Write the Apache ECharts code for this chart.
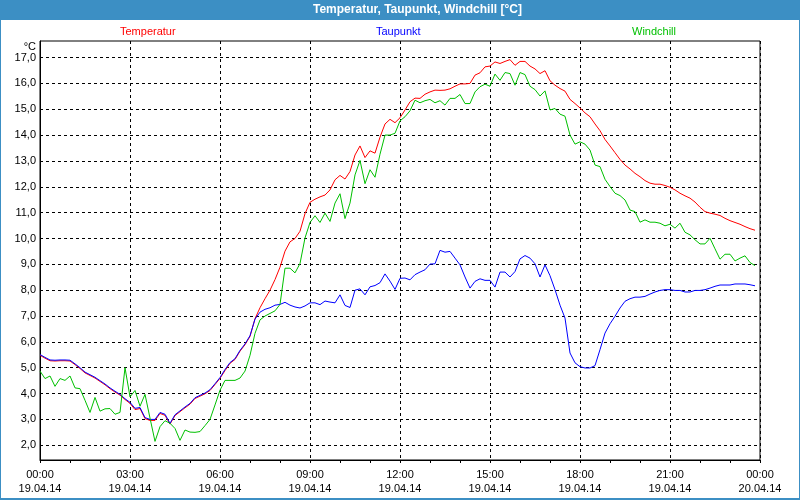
<!DOCTYPE html>
<html>
<head>
<meta charset="utf-8">
<script src="https://cdn.jsdelivr.net/npm/echarts@6/dist/echarts.min.js"></script>
<style>
html,body{margin:0;padding:0;background:#fff;}
#chart{width:800px;height:500px;}
</style>
</head>
<body>
<div id="chart"></div>
<script>
// ---- data (10-minute readings, 19.04.14 00:00 .. 23:50) ----
const titleText = 'Temperatur, Taupunkt, Windchill [°C]';
const seriesNames = ['Temperatur', 'Taupunkt', 'Windchill'];
const seriesColors = ['#ff0000', '#0000ff', '#00c000'];
const yTicks = [2, 3, 4, 5, 6, 7, 8, 9, 10, 11, 12, 13, 14, 15, 16, 17];

const temperatur = [
  5.48, 5.37, 5.27, 5.26, 5.27, 5.27, 5.26, 5.12, 4.97, 4.80,
  4.70, 4.60, 4.47, 4.34, 4.19, 4.06, 3.94, 3.77, 3.62, 3.38,
  3.42, 3.03, 2.96, 2.96, 3.23, 3.16, 2.82, 3.15, 3.30, 3.45,
  3.59, 3.81, 3.90, 3.99, 4.12, 4.35, 4.59, 4.89, 5.17, 5.32,
  5.64, 5.89, 6.21, 6.90, 7.32, 7.67, 8.00, 8.41, 8.89, 9.51,
  9.87, 10.00, 10.28, 10.96, 11.40, 11.52, 11.61, 11.68, 11.88, 12.27,
  12.44, 12.30, 12.59, 13.23, 13.58, 13.13, 13.39, 13.30, 13.92, 14.43,
  14.61, 14.48, 14.67, 14.97, 15.29, 15.43, 15.42, 15.58, 15.67, 15.74,
  15.73, 15.74, 15.79, 15.89, 15.98, 15.98, 16.00, 16.32, 16.41, 16.64,
  16.67, 16.83, 16.77, 16.85, 16.92, 16.70, 16.85, 16.85, 16.67, 16.56,
  16.38, 16.49, 16.10, 15.93, 15.80, 15.70, 15.38, 15.22, 15.05, 14.86,
  14.71, 14.43, 14.17, 13.83, 13.58, 13.32, 13.06, 12.84, 12.69, 12.52,
  12.39, 12.24, 12.14, 12.10, 12.10, 12.05, 11.98, 11.88, 11.75, 11.65,
  11.56, 11.41, 11.21, 11.04, 10.98, 10.94, 10.89, 10.78, 10.69, 10.62,
  10.55, 10.46, 10.38, 10.32
];

const taupunkt = [
  5.51, 5.40, 5.30, 5.29, 5.30, 5.30, 5.29, 5.15, 5.00, 4.83,
  4.73, 4.63, 4.50, 4.37, 4.22, 4.09, 3.97, 3.80, 3.66, 3.43,
  3.46, 3.07, 3.00, 3.00, 3.27, 3.20, 2.85, 3.18, 3.33, 3.48,
  3.62, 3.84, 3.93, 4.02, 4.15, 4.38, 4.62, 4.93, 5.20, 5.35,
  5.67, 5.92, 6.24, 6.88, 7.15, 7.26, 7.32, 7.42, 7.45, 7.53,
  7.42, 7.35, 7.31, 7.39, 7.51, 7.51, 7.44, 7.58, 7.54, 7.51,
  7.82, 7.41, 7.33, 8.00, 8.05, 7.82, 8.13, 8.18, 8.29, 8.63,
  8.35, 8.03, 8.46, 8.47, 8.40, 8.60, 8.70, 8.79, 9.01, 9.02,
  9.54, 9.47, 9.50, 9.24, 8.98, 8.51, 8.08, 8.34, 8.44, 8.38,
  8.38, 8.12, 8.70, 8.70, 8.51, 8.72, 9.21, 9.34, 9.24, 9.02,
  8.51, 8.98, 8.56, 8.02, 7.42, 6.92, 5.57, 5.19, 5.04, 4.99,
  4.99, 5.08, 5.70, 6.34, 6.70, 6.99, 7.31, 7.57, 7.67, 7.73,
  7.73, 7.76, 7.85, 7.93, 7.99, 8.02, 8.02, 7.99, 7.99, 7.93,
  7.93, 7.99, 7.99, 8.02, 8.08, 8.15, 8.20, 8.20, 8.20, 8.24,
  8.24, 8.24, 8.21, 8.17
];

const windchill = [
  4.87, 4.58, 4.68, 4.28, 4.58, 4.51, 4.68, 4.22, 4.19, 3.74,
  3.27, 3.85, 3.32, 3.41, 3.42, 3.20, 3.27, 5.00, 3.87, 4.12,
  3.51, 3.97, 3.05, 2.15, 2.72, 2.95, 2.85, 2.65, 2.19, 2.59,
  2.51, 2.50, 2.53, 2.76, 3.00, 3.56, 4.13, 4.51, 4.51, 4.51,
  4.60, 4.87, 5.48, 6.33, 6.85, 7.00, 7.10, 7.20, 7.45, 8.85,
  8.85, 8.67, 9.03, 10.02, 10.62, 10.88, 10.62, 10.98, 10.66, 11.37,
  11.73, 10.77, 11.37, 12.46, 13.02, 12.12, 12.66, 12.37, 13.26, 14.00,
  14.00, 14.07, 14.55, 14.71, 14.94, 15.35, 15.25, 15.33, 15.38, 15.25,
  15.33, 15.16, 15.42, 15.42, 15.57, 15.22, 15.22, 15.67, 15.87, 15.97,
  15.89, 16.36, 16.12, 16.42, 16.38, 15.93, 16.42, 16.34, 15.89, 15.76,
  15.51, 15.71, 14.97, 15.03, 14.81, 14.73, 14.00, 13.65, 13.74, 13.65,
  13.42, 12.84, 12.78, 12.29, 12.01, 11.75, 11.66, 11.49, 11.10, 11.04,
  10.63, 10.72, 10.63, 10.63, 10.59, 10.49, 10.55, 10.40, 10.59, 10.24,
  10.14, 9.95, 9.79, 9.79, 10.01, 9.60, 9.20, 9.39, 9.39, 9.13,
  9.24, 9.33, 9.07, 8.95
];

// time categories every 10 minutes, 19.04.14 00:00 .. 20.04.14 00:00
const categories = [];
function pad(n) { return (n < 10 ? '0' : '') + n; }
for (let h = 0; h < 24; h++) {
  for (let m = 0; m < 60; m += 10) categories.push('19.04.14 ' + pad(h) + ':' + pad(m));
}
categories.push('20.04.14 00:00');

// ---- chart ----
const FONT = '"Liberation Sans", Arial, sans-serif';
const BLUE = '#3c8fc4';
const Y_MIN = 1.43, Y_MAX = 17.64;
const G_TOP = 41, G_H = 419, G_LEFT = 40, G_RIGHT = 40;
const pxPerUnit = G_H / (Y_MAX - Y_MIN);
const g2Top = G_TOP - (18 - Y_MAX) * pxPerUnit;
const g2H = 17 * pxPerUnit;

const chart = echarts.init(document.getElementById('chart'), null, {renderer: 'canvas'});
const legendBase = {
  icon: 'none', itemWidth: 0, itemHeight: 0, padding: 0, top: 26,
  selectedMode: false,
  textStyle: {fontFamily: FONT, fontSize: 11}
};
chart.setOption({
  animation: false,
  backgroundColor: '#ffffff',
  title: {
    text: titleText, left: 313, top: 2, padding: 0,
    textStyle: {color: '#ffffff', fontWeight: 'bold', fontSize: 12, fontFamily: FONT, lineHeight: 16}
  },
  graphic: [
    {type: 'rect', z: -10, shape: {x: 0, y: 0, width: 800, height: 20}, style: {fill: BLUE}},
    {type: 'rect', z: -10, shape: {x: 0, y: 0, width: 1, height: 500}, style: {fill: BLUE}},
    {type: 'rect', z: -10, shape: {x: 799, y: 0, width: 1, height: 500}, style: {fill: BLUE}},
    {type: 'rect', z: -10, shape: {x: 0, y: 498, width: 800, height: 2}, style: {fill: BLUE}}
  ],
  legend: seriesNames.map((n, i) => Object.assign({}, legendBase, {
    left: [115, 371, 627][i],
    data: [{name: n, textStyle: {color: seriesColors[i]}}]
  })),
  grid: [
    {left: G_LEFT, right: G_RIGHT, top: G_TOP, height: G_H, show: true,
     borderColor: '#000', borderWidth: 1, backgroundColor: 'transparent'},
    {left: G_LEFT, right: G_RIGHT, top: g2Top, height: g2H, show: false}
  ],
  xAxis: [
    {
      type: 'category', gridIndex: 0, data: categories, boundaryGap: false,
      axisLine: {lineStyle: {color: '#000', width: 1}},
      axisTick: {show: true, length: 3, interval: (i) => i % 6 === 0, lineStyle: {color: '#000'}},
      axisLabel: {
        interval: (i) => i % 18 === 0, margin: 8, color: '#000', fontSize: 11,
        fontFamily: FONT, lineHeight: 14,
        formatter: (v) => { const p = v.split(' '); return p[1] + '\n' + p[0]; }
      },
      splitLine: {show: true, interval: (i) => i % 18 === 0,
        lineStyle: {color: '#000', type: [3, 3], width: 1}}
    },
    {type: 'value', gridIndex: 1, min: 0, max: 1, show: false}
  ],
  yAxis: [
    {
      type: 'value', gridIndex: 0, min: Y_MIN, max: Y_MAX,
      axisLine: {show: true, lineStyle: {color: '#000'}},
      axisTick: {show: false}, axisLabel: {show: false}, splitLine: {show: false}
    },
    {
      type: 'value', gridIndex: 1, min: 1, max: 18, interval: 1,
      name: '°C', nameLocation: 'end', nameGap: -21,
      nameTextStyle: {color: '#000', fontSize: 11, fontFamily: FONT, align: 'right', padding: [0, 4, 0, 0]},
      axisLine: {show: false}, axisTick: {show: false},
      axisLabel: {
        color: '#000', fontSize: 11, fontFamily: FONT, margin: 4,
        showMinLabel: false, showMaxLabel: false,
        formatter: (v) => (yTicks.indexOf(v) >= 0 ? v.toFixed(1).replace('.', ',') : '')
      },
      splitLine: {show: true, showMinLine: false, showMaxLine: false,
        lineStyle: {color: '#000', type: [3, 3], width: 1}}
    }
  ],
  series: [
    {name: seriesNames[0], type: 'line', data: temperatur, xAxisIndex: 0, yAxisIndex: 0,
     showSymbol: false, symbol: 'none', lineStyle: {width: 1, color: seriesColors[0]},
     itemStyle: {color: seriesColors[0]}, z: 3},
    {name: seriesNames[1], type: 'line', data: taupunkt, xAxisIndex: 0, yAxisIndex: 0,
     showSymbol: false, symbol: 'none', lineStyle: {width: 1, color: seriesColors[1]},
     itemStyle: {color: seriesColors[1]}, z: 4},
    {name: seriesNames[2], type: 'line', data: windchill, xAxisIndex: 0, yAxisIndex: 0,
     showSymbol: false, symbol: 'none', lineStyle: {width: 1, color: seriesColors[2]},
     itemStyle: {color: seriesColors[2]}, z: 5}
  ]
});
</script>
</body>
</html>
